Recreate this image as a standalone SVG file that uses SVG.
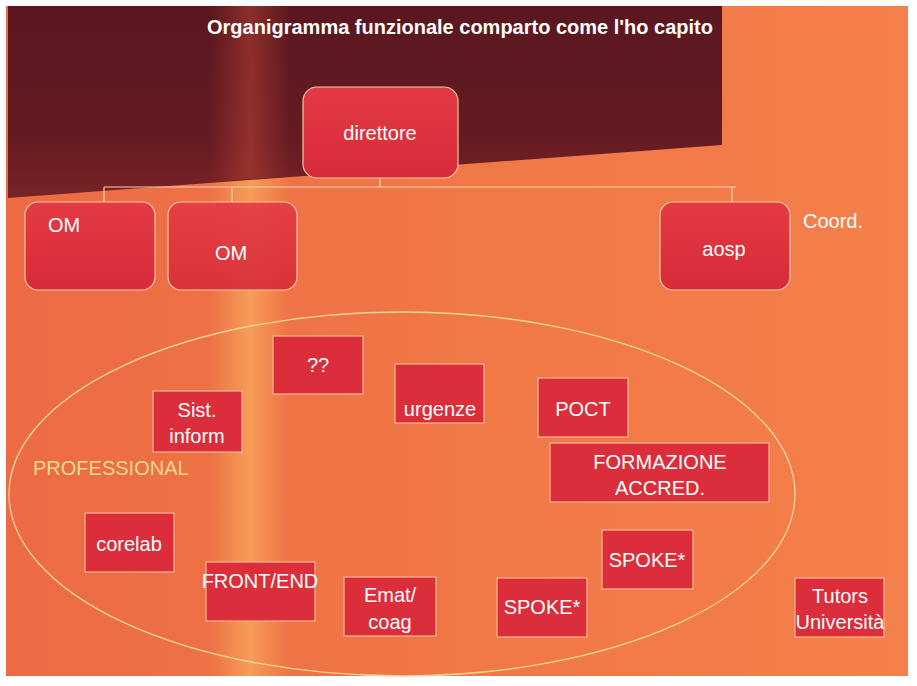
<svg xmlns="http://www.w3.org/2000/svg" width="917" height="686" viewBox="0 0 917 686">
<defs>
<linearGradient id="bg" x1="0" y1="0" x2="1" y2="0">
<stop offset="0" stop-color="#ec6b44"/>
<stop offset="0.5" stop-color="#f07746"/>
<stop offset="1" stop-color="#f4804b"/>
</linearGradient>
<linearGradient id="dark" x1="0" y1="0" x2="0" y2="1">
<stop offset="0" stop-color="#5a171f"/>
<stop offset="0.7" stop-color="#661b22"/>
<stop offset="1" stop-color="#782326"/>
</linearGradient>
<linearGradient id="glow" x1="0" y1="0" x2="1" y2="0">
<stop offset="0" stop-color="#ffc86a" stop-opacity="0"/>
<stop offset="0.5" stop-color="#ffc86a" stop-opacity="0.5"/>
<stop offset="1" stop-color="#ffc86a" stop-opacity="0"/>
</linearGradient>
<linearGradient id="glowd" x1="0" y1="0" x2="1" y2="0">
<stop offset="0" stop-color="#c84a3a" stop-opacity="0"/>
<stop offset="0.5" stop-color="#c84a3a" stop-opacity="0.45"/>
<stop offset="1" stop-color="#c84a3a" stop-opacity="0"/>
</linearGradient>
<linearGradient id="node" x1="0" y1="0" x2="0" y2="1">
<stop offset="0" stop-color="#e43a44"/>
<stop offset="1" stop-color="#d72c38"/>
</linearGradient>
</defs>
<style>
.t{font-family:"Liberation Sans",Arial,sans-serif;fill:#fff;font-size:20px;text-anchor:middle}
.rn{fill:url(#node);stroke:#f7c7a8;stroke-width:1.2}
.bx{fill:#dc2e3a;stroke:#f5b896;stroke-width:1.2}
.con{stroke:#f6d2b0;stroke-width:1.2;fill:none}
</style>
<rect width="917" height="686" fill="#ffffff"/>
<rect x="6" y="6" width="902" height="670" fill="url(#bg)"/>
<rect x="210" y="6" width="80" height="670" fill="url(#glow)"/>
<polygon points="8,6 722,6 722,145 8,198" fill="url(#dark)"/>
<polygon points="210,6 290,6 290,176 210,182" fill="url(#glowd)"/>
<text x="460" y="34" class="t" font-weight="bold" style="font-size:20px">Organigramma funzionale comparto come l'ho capito</text>
<ellipse cx="402" cy="494" rx="393" ry="182" fill="none" stroke="#f8d49a" stroke-width="1.3"/>
<g id="connectors">
<path class="con" d="M380,178 V187 M104,187 H736 M104,187 V202 M232,187 V202 M732,187 V202"/>
</g>
<g id="direttore"><rect class="rn" x="303" y="87" width="155" height="91" rx="14"/><text class="t" x="380" y="140">direttore</text></g>
<g id="om1"><rect class="rn" x="25" y="202" width="130" height="88" rx="13"/><text class="t" x="64" y="232">OM</text></g>
<g id="om2"><rect class="rn" x="168" y="202" width="129" height="88" rx="13" fill-opacity="0.9"/><text class="t" x="231" y="260">OM</text></g>
<g id="aosp"><rect class="rn" x="660" y="202" width="130" height="88" rx="13"/><text class="t" x="724" y="256">aosp</text></g>
<g id="coord"><text class="t" x="803" y="228" style="text-anchor:start">Coord.</text></g>
<g id="qq"><rect class="bx" x="273" y="336" width="90" height="58"/><text class="t" x="318" y="372">??</text></g>
<g id="sist"><rect class="bx" x="153" y="391" width="89" height="61"/><text class="t" x="197" y="417">Sist.</text><text class="t" x="197" y="443">inform</text></g>
<g id="urgenze"><rect class="bx" x="395" y="364" width="89" height="59"/><text class="t" x="440" y="416">urgenze</text></g>
<g id="poct"><rect class="bx" x="538" y="378" width="90" height="59"/><text class="t" x="583" y="416">POCT</text></g>
<g id="formazione"><rect class="bx" x="550" y="443" width="219" height="59"/><text class="t" x="660" y="469">FORMAZIONE</text><text class="t" x="660" y="495">ACCRED.</text></g>
<g id="professional"><text x="33" y="475" font-family="Liberation Sans,Arial,sans-serif" font-size="20" fill="#f8d88c">PROFESSIONAL</text></g>
<g id="corelab"><rect class="bx" x="85" y="513" width="89" height="59"/><text class="t" x="129" y="551">corelab</text></g>
<g id="frontend"><rect class="bx" x="206" y="562" width="109" height="59"/><text class="t" x="260" y="588">FRONT/END</text></g>
<g id="emat"><rect class="bx" x="344" y="577" width="92" height="59"/><text class="t" x="390" y="602">Emat/</text><text class="t" x="390" y="629">coag</text></g>
<g id="spoke1"><rect class="bx" x="497" y="578" width="90" height="59"/><text class="t" x="542" y="614">SPOKE*</text></g>
<g id="spoke2"><rect class="bx" x="602" y="530" width="91" height="59"/><text class="t" x="647" y="567">SPOKE*</text></g>
<g id="tutors"><rect class="bx" x="795" y="578" width="89" height="59"/><text class="t" x="840" y="603">Tutors</text><text class="t" x="840" y="629">Università</text></g>
</svg>
